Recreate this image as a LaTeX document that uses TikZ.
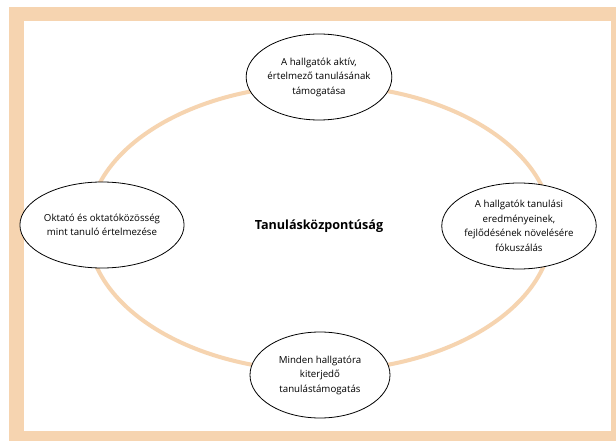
\documentclass[tikz,border=0pt]{standalone}
\usepackage{fontspec}
\setmainfont{Open Sans}
\usetikzlibrary{shapes.geometric}
\usetikzlibrary{positioning}

\definecolor{peach}{HTML}{F6D4B0}

\begin{document}
\begin{tikzpicture}[x=1pt,y=-1pt,
  idea/.style={ellipse,draw=black,line width=0.8pt,fill=white,minimum width=140pt,minimum height=86pt,inner sep=0pt,align=center,font=\fontsize{9.7}{14.5}\selectfont}]
\useasboundingbox (0,0) rectangle (616,441);
\fill[peach] (8.6,6.7) rectangle (616,441);
\fill[white] (23.6,20.7) rectangle (611,431);
\draw[peach,line width=4pt] (320,228) ellipse [x radius=232, y radius=143];

\node[idea] (aktiv) at (319,77) {A hallgatók aktív,\\értelmező tanulásának\\támogatása};
\node[idea] (oktato) at (102,225) {Oktató és oktatóközösség\\mint tanuló értelmezése};
\node[idea] (eredmeny) at (519,226) {A hallgatók tanulási\\eredményeinek,\\fejlődésének növelésére\\fókuszálás};
\node[idea] (tamogatas) at (320,375) {Minden hallgatóra\\kiterjedő\\tanulástámogatás};
\node[font=\bfseries\fontsize{12.6}{14}\selectfont] (kozpont) at (319,226) {Tanulásközpontúság};

\end{tikzpicture}
\end{document}
